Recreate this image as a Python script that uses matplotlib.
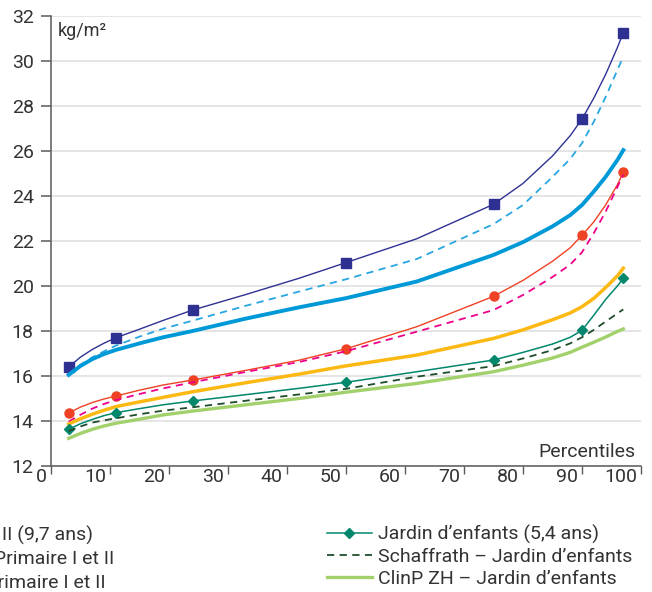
import matplotlib
matplotlib.use("Agg")
import matplotlib.pyplot as plt
from matplotlib.transforms import ScaledTranslation

plt.rcParams['font.family'] = ['Roboto', 'DejaVu Sans']

# ---- données ----
percentiles = [3, 5, 7, 9, 11, 15, 19, 24, 33, 42, 50, 62, 75, 80, 85, 88, 90, 92, 94, 96, 97]
mark_idx = [0, 4, 7, 10, 12, 16, 20]   # points avec marqueur (P3, P10, P25, P50, P75, P90, P97)

secondaire = [16.4, 16.84, 17.18, 17.46, 17.7, 18.08, 18.47, 18.93, 19.62, 20.34, 21.04,
              22.1, 23.63, 24.56, 25.78, 26.68, 27.42, 28.35, 29.4, 30.6, 31.26]
schaffrath_sec = [16.1, 16.5, 16.83, 17.1, 17.35, 17.75, 18.1, 18.46, 19.12, 19.75, 20.3,
                  21.2, 22.75, 23.6, 24.85, 25.65, 26.35, 27.3, 28.4, 29.6, 30.2]
clinp_sec = [16.05, 16.45, 16.75, 16.98, 17.16, 17.45, 17.72, 18.0, 18.55, 19.05, 19.46,
             20.2, 21.38, 21.95, 22.65, 23.15, 23.6, 24.2, 24.85, 25.6, 26.04]

primaire = [14.36, 14.62, 14.82, 14.98, 15.11, 15.37, 15.6, 15.82, 16.25, 16.7, 17.21,
            18.19, 19.54, 20.25, 21.1, 21.7, 22.25, 22.85, 23.6, 24.5, 25.05]
schaffrath_prim = [13.97, 14.28, 14.55, 14.76, 14.93, 15.2, 15.45, 15.72, 16.18, 16.62, 17.1,
                   17.97, 18.93, 19.6, 20.4, 20.95, 21.5, 22.35, 23.3, 24.4, 24.95]
clinp_prim = [13.87, 14.1, 14.3, 14.48, 14.64, 14.85, 15.05, 15.3, 15.7, 16.08, 16.45,
              16.93, 17.67, 18.05, 18.5, 18.8, 19.08, 19.45, 19.93, 20.45, 20.79]

jardin = [13.63, 13.88, 14.07, 14.24, 14.37, 14.55, 14.72, 14.89, 15.17, 15.45, 15.72,
          16.19, 16.71, 17.05, 17.42, 17.72, 18.03, 18.7, 19.4, 20.0, 20.34]
schaffrath_jardin = [13.55, 13.76, 13.93, 14.03, 14.12, 14.3, 14.46, 14.61, 14.9, 15.18, 15.43,
                     15.97, 16.44, 16.78, 17.15, 17.45, 17.72, 18.05, 18.42, 18.78, 18.96]
clinp_jardin = [13.23, 13.45, 13.63, 13.78, 13.9, 14.08, 14.27, 14.44, 14.72, 15.0, 15.28,
                15.67, 16.19, 16.48, 16.8, 17.05, 17.28, 17.5, 17.73, 17.98, 18.09]

x_ticks = list(range(0, 101, 10))
y_ticks = list(range(12, 33, 2))

TXT = '#333333'
AXC = '#5a5a5a'

fig = plt.figure(figsize=(6.52, 5.92), dpi=100)
ax = fig.add_axes([51/652, 1-466/592, 590/652, 450/592])

ax.plot(percentiles, secondaire, color='#2e3192', lw=1.0, marker='s', ms=7,
        markevery=mark_idx, label='Secondaire I (13,5 ans)')
ax.plot(percentiles, schaffrath_sec, color='#27a6e1', lw=1.3, dashes=(4, 3),
        label='Schaffrath – Secondaire I')
ax.plot(percentiles, clinp_sec, color='#0099d8', lw=2.8, label='ClinP ZH – Secondaire I')

ax.plot(percentiles, primaire, color='#ef4123', lw=1.0, marker='o', ms=6.5,
        markevery=mark_idx, label='Primaire I et II (9,7 ans)')
ax.plot(percentiles, schaffrath_prim, color='#ec008c', lw=1.3, dashes=(4, 3),
        label='Schaffrath – Primaire I et II')
ax.plot(percentiles, clinp_prim, color='#fdb913', lw=2.5, label='ClinP ZH – Primaire I et II')

l_j, = ax.plot(percentiles, jardin, color='#00876c', lw=1.1, marker='D', ms=5.5,
               markevery=mark_idx, label='Jardin d\u2019enfants (5,4 ans)')
l_sj, = ax.plot(percentiles, schaffrath_jardin, color='#1f4d2c', lw=1.3, dashes=(4, 3),
                label='Schaffrath – Jardin d\u2019enfants')
l_cj, = ax.plot(percentiles, clinp_jardin, color='#a2d16c', lw=2.4,
                label='ClinP ZH – Jardin d\u2019enfants')

ax.set_xlim(0, 100)
ax.set_ylim(12, 32)
ax.set_xticks(x_ticks)
ax.set_yticks(y_ticks)
ax.yaxis.grid(True, color='#dedede', lw=1.1)
ax.set_axisbelow(True)

for s in ['top', 'right']:
    ax.spines[s].set_visible(False)
for s in ['left', 'bottom']:
    ax.spines[s].set_color(AXC)
    ax.spines[s].set_linewidth(1.1)

ax.tick_params(axis='y', length=7, width=1.1, color=AXC, pad=5.5, labelsize=14, labelcolor=TXT)
ax.tick_params(axis='x', length=6, width=1.0, color=AXC, pad=-4.5, labelsize=14, labelcolor=TXT)

# étiquettes de l'axe x à gauche du trait de graduation
offset = ScaledTranslation(-3/72, 0, fig.dpi_scale_trans)
for lbl in ax.get_xticklabels():
    lbl.set_horizontalalignment('right')
    lbl.set_transform(lbl.get_transform() + offset)

ax.text(0.012, 0.956, 'kg/m\u00b2', transform=ax.transAxes, fontsize=13, color=TXT,
        ha='left', va='baseline')
ax.text(0.9915, 0.02, 'Percentiles', transform=ax.transAxes, fontsize=14, color=TXT,
        ha='right', va='baseline')

# légende (la colonne de gauche est coupée par le bord de l'image)
fig.legend(handles=[l_j, l_sj, l_cj], loc='upper left',
           bbox_to_anchor=(327/652, 1-525/592), frameon=False, fontsize=14,
           labelcolor=TXT, handlelength=2.3, handletextpad=0.3, labelspacing=0.2,
           borderpad=0, borderaxespad=0)

left_col = ['Primaire I et II (9,7 ans)', 'Schaffrath – Primaire I et II', 'ClinP ZH – Primaire I et II']
left_end = [93/652, 114/652, 106/652]
row_y = [535, 559, 583]
for txt, xe, yy in zip(left_col, left_end, row_y):
    fig.text(xe, 1-yy/592, txt, fontsize=14, color=TXT, ha='right', va='center')

fig.savefig('out.png', dpi=100)
